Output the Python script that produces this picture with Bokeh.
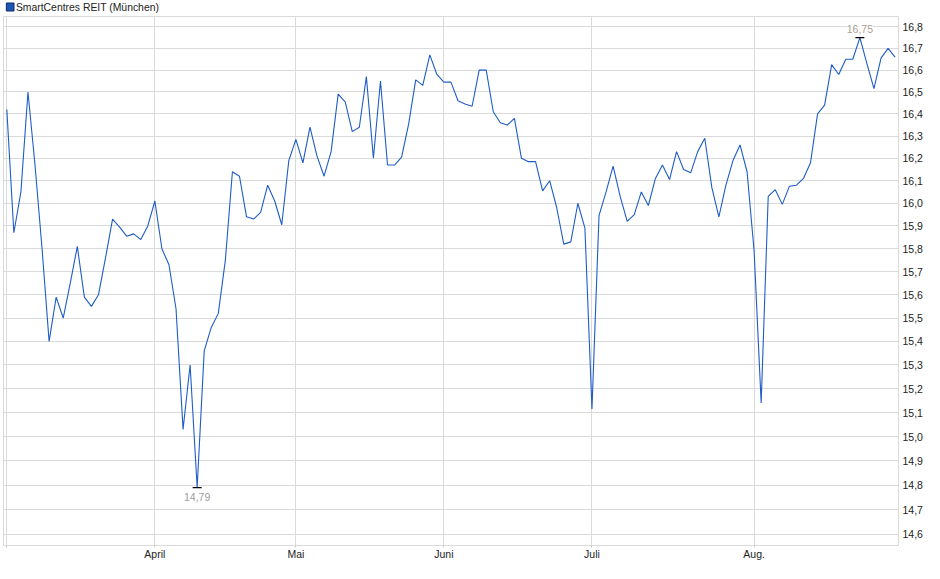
from bokeh.plotting import figure
from bokeh.layouts import column
from bokeh.models import (Range1d, FixedTicker, CustomJSTickFormatter, Label, ColumnDataSource)
from bokeh.embed import file_html
from bokeh.resources import INLINE

# ---- data (trading days, 3 Mar - 29 Aug) ----
series_name = "SmartCentres REIT (München)"
prices = [
    16.42, 15.87, 16.05, 16.50, 16.17, 15.80, 15.40, 15.59, 15.50, 15.65,
    15.81, 15.59, 15.55, 15.60, 15.76, 15.93, 15.895, 15.855, 15.865, 15.84,
    15.90, 16.01, 15.80, 15.73, 15.54, 15.03, 15.30, 14.79, 15.36, 15.46,
    15.52, 15.75, 16.14, 16.12, 15.94, 15.93, 15.96, 16.08, 16.01, 15.905,
    16.19, 16.285, 16.18, 16.34, 16.21, 16.12, 16.23, 16.49, 16.455, 16.32,
    16.34, 16.57, 16.20, 16.55, 16.17, 16.17, 16.205, 16.355, 16.555, 16.53,
    16.67, 16.58, 16.545, 16.545, 16.46, 16.445, 16.435, 16.60, 16.60, 16.41,
    16.36, 16.35, 16.38, 16.20, 16.185, 16.185, 16.055, 16.10, 15.98, 15.82,
    15.83, 16.00, 15.89, 15.115, 15.945, 16.05, 16.165, 16.03, 15.92, 15.95,
    16.05, 15.99, 16.11, 16.17, 16.105, 16.23, 16.15, 16.135, 16.23, 16.29,
    16.07, 15.94, 16.08, 16.19, 16.26, 16.14, 15.79, 15.14, 16.03, 16.06,
    15.995, 16.075, 16.08, 16.11, 16.18, 16.40, 16.44, 16.625, 16.58, 16.65,
    16.65, 16.75, 16.63, 16.515, 16.655, 16.70, 16.66,
]
day_index = list(range(len(prices)))
month_ticks = [0, 21, 41, 62, 83, 106]
month_labels = ["", "April", "Mai", "Juni", "Juli", "Aug."]
y_ticks = [14.6, 14.7, 14.8, 14.9, 15.0, 15.1, 15.2, 15.3, 15.4, 15.5, 15.6, 15.7,
           15.8, 15.9, 16.0, 16.1, 16.2, 16.3, 16.4, 16.5, 16.6, 16.7, 16.8]

FONT = "Liberation Sans"
LINE_COLOR = "#1e5cc6"
GRID = "#dadada"
TOTAL_W = 938
HEADER_H = 16

# ---- header with the legend ----
head = figure(width=TOTAL_W, height=HEADER_H, x_range=Range1d(0, TOTAL_W),
              y_range=Range1d(HEADER_H, 0), x_axis_location=None, y_axis_location=None,
              output_backend="svg", toolbar_location=None, min_border=0)
head.grid.visible = False
head.outline_line_color = None
head.background_fill_color = "white"
head.border_fill_color = "white"
head.quad(left=[3], right=[11], top=[2.5], bottom=[10.5],
          fill_color="#1d56b8", line_color="#0d2a66", line_width=1)
head.add_layout(Label(x=13, y=6.5, text=series_name, text_baseline="middle",
                      text_font=FONT, text_font_size="10.4px", text_color="#222222"))

# ---- main chart ----
p = figure(frame_width=895, frame_height=529,
           x_range=Range1d(-0.47, 126.48), y_range=Range1d(14.555, 16.848),
           y_axis_type="log", y_axis_location="right",
           output_backend="svg", toolbar_location=None,
           min_border_left=3, min_border_top=0, min_border_right=40, min_border_bottom=30)
p.background_fill_color = "white"
p.border_fill_color = "white"
p.outline_line_color = GRID

p.xgrid.ticker = FixedTicker(ticks=month_ticks)
p.ygrid.ticker = FixedTicker(ticks=y_ticks)
p.xgrid.grid_line_color = GRID
p.ygrid.grid_line_color = GRID

xa = p.xaxis[0]
xa.ticker = FixedTicker(ticks=month_ticks)
xa.major_label_overrides = {t: l for t, l in zip(month_ticks, month_labels)}
xa.axis_line_color = GRID
xa.major_tick_line_color = "#c8c8c8"
xa.major_tick_out = 2
xa.major_tick_in = 0
xa.minor_tick_line_color = None
xa.major_label_standoff = 0
xa.major_label_text_font = FONT
xa.major_label_text_font_size = "10.5px"
xa.major_label_text_color = "#222222"

ya = p.yaxis[0]
ya.ticker = FixedTicker(ticks=y_ticks)
ya.formatter = CustomJSTickFormatter(code="return tick.toFixed(1).replace('.', ',');")
ya.axis_line_color = GRID
ya.major_tick_line_color = None
ya.major_tick_out = 0
ya.major_tick_in = 0
ya.minor_tick_line_color = None
ya.major_label_standoff = 4
ya.major_label_text_font = FONT
ya.major_label_text_font_size = "10.5px"
ya.major_label_text_color = "#222222"

src = ColumnDataSource(dict(x=day_index, y=prices))
p.line("x", "y", source=src, line_color=LINE_COLOR, line_width=1.1)

imin = prices.index(min(prices))
imax = prices.index(max(prices))
p.scatter([imin, imax], [prices[imin], prices[imax]], marker="dash", size=9,
          line_color="black", line_width=1.2)
p.add_layout(Label(x=imin, y=prices[imin], text=f"{prices[imin]:.2f}".replace(".", ","),
                   text_align="center", text_baseline="top", y_offset=-5,
                   text_font=FONT, text_font_size="10.5px", text_color="#9c9c9c"))
p.add_layout(Label(x=imax, y=prices[imax], text=f"{prices[imax]:.2f}".replace(".", ","),
                   text_align="center", text_baseline="bottom", y_offset=5,
                   text_font=FONT, text_font_size="10.5px", text_color="#aba294",
                   background_fill_color="white", background_fill_alpha=0.8))

layout = column(head, p, spacing=0)
html = file_html(layout, INLINE)
html = html.replace("<head>", "<head><style>html,body{margin:0;padding:0;}</style>", 1)
open("out.html", "w").write(html)
